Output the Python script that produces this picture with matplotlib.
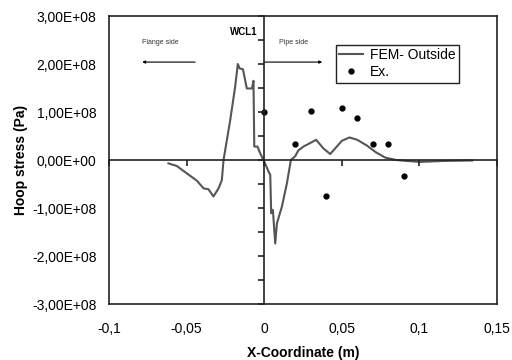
import matplotlib.pyplot as plt
from matplotlib.ticker import FuncFormatter, MultipleLocator

# FEM hoop stress along the outside surface (x in m, stress in 1e8 Pa)
fem_x = [-0.0617, -0.0563, -0.0498, -0.0434, -0.0391, -0.0359, -0.0327,
         -0.0294, -0.0273, -0.0262, -0.0219, -0.0187, -0.0170, -0.0159,
         -0.0137, -0.0112, -0.0079, -0.0069, -0.0064, -0.0043, -0.0026, 0.0,
         0.0028, 0.0039, 0.0045, 0.0056, 0.0071, 0.0082, 0.0114, 0.0146,
         0.0172, 0.0200, 0.0220, 0.0253, 0.0300, 0.0335, 0.0382, 0.0425,
         0.0468, 0.0500, 0.0550, 0.0600, 0.0662, 0.0720, 0.0780, 0.0850,
         0.0919, 0.1005, 0.115, 0.134]
fem_y = [-0.07, -0.125, -0.28, -0.43, -0.59, -0.61, -0.76,
         -0.59, -0.42, 0.0, 0.83, 1.53, 2.00, 1.91,
         1.89, 1.49, 1.49, 1.65, 0.28, 0.28, 0.14, -0.03,
         -0.24, -0.31, -1.11, -1.04, -1.74, -1.32, -0.97, -0.49,
         0.0, 0.08, 0.20, 0.28, 0.36, 0.42, 0.24, 0.125,
         0.28, 0.40, 0.47, 0.42, 0.30, 0.16, 0.05, 0.0,
         -0.02, -0.04, -0.02, -0.01]

# measured values
ex_x = [0.0, 0.02, 0.03, 0.04, 0.05, 0.06, 0.07, 0.08, 0.09]
ex_y = [1.0, 0.33, 1.03, -0.74, 1.09, 0.88, 0.33, 0.34, -0.33]

scale = 1e8
fem_pa = [v * scale for v in fem_y]
ex_pa = [v * scale for v in ex_y]

plt.rcParams['font.family'] = ['Liberation Sans', 'DejaVu Sans']

fig = plt.figure(figsize=(5.12, 3.6), dpi=100)
rect = [109 / 512, 1 - 304 / 360, 388 / 512, 288 / 360]
ax = fig.add_axes(rect)

ax.plot(fem_x, fem_pa, color='#555555', lw=1.5, label='FEM- Outside')
ax.plot(ex_x, ex_pa, 'o', color='black', ms=3.5, label='Ex.')

xlim = (-0.1, 0.15)
ylim = (-3e8, 3e8)
ax.set_xlim(xlim)
ax.set_ylim(ylim)
ax.xaxis.set_major_locator(MultipleLocator(0.05))
ax.yaxis.set_major_locator(MultipleLocator(1e8))
ax.xaxis.set_major_formatter(FuncFormatter(
    lambda v, p: '0' if abs(v) < 1e-9 else ('%g' % round(v, 3)).replace('.', ',')))
ax.yaxis.set_major_formatter(FuncFormatter(
    lambda v, p: ('%.2E' % v).replace('.', ',')))
ax.tick_params(length=0, labelsize=10)
ax.tick_params(axis='x', pad=13)
ax.tick_params(axis='y', pad=9)
for s in ax.spines.values():
    s.set_linewidth(1.2)
    s.set_color('#222222')

ax.set_xlabel('X-Coordinate (m)', fontsize=10, fontweight='bold', labelpad=7)
ax.set_ylabel('Hoop stress (Pa)', fontsize=10, fontweight='bold', labelpad=3)

# axis lines through the origin with their own ticks
ax0 = fig.add_axes(rect)
ax0.patch.set_visible(False)
ax0.set_xlim(xlim)
ax0.set_ylim(ylim)
for side in ['top', 'right']:
    ax0.spines[side].set_visible(False)
for side in ['left', 'bottom']:
    ax0.spines[side].set_position(('data', 0))
    ax0.spines[side].set_linewidth(1.2)
    ax0.spines[side].set_color('#222222')
ax0.xaxis.set_major_locator(MultipleLocator(0.05))
ax0.yaxis.set_major_locator(MultipleLocator(0.5e8))
ax0.tick_params(direction='out', length=4, width=1.2, color='#222222',
                labelbottom=False, labelleft=False)

ax.annotate('', xy=(-0.0786, 2.04e8), xytext=(-0.0445, 2.04e8),
            arrowprops=dict(arrowstyle='-|>', color='black', lw=0.8,
                            mutation_scale=4, shrinkA=0, shrinkB=0))
ax.annotate('', xy=(0.0374, 2.04e8), xytext=(0.0, 2.04e8),
            arrowprops=dict(arrowstyle='-|>', color='black', lw=0.8,
                            mutation_scale=4, shrinkA=0, shrinkB=0))
ax.text(-0.0785, 2.45e8, 'Flange side', fontsize=5, color='#333333', va='center')
ax.text(0.0095, 2.45e8, 'Pipe side', fontsize=5, color='#333333', va='center')
ax.text(-0.0045, 2.66e8, 'WCL1', fontsize=7, fontweight='bold', ha='right', va='center')

leg = ax0.legend(*ax.get_legend_handles_labels(), loc='upper left',
                 bbox_to_anchor=(0.585, 0.9), fontsize=10,
                 frameon=True, fancybox=False, edgecolor='#222222',
                 borderpad=0.25, handlelength=1.7, handletextpad=0.5,
                 labelspacing=0.2, borderaxespad=0, framealpha=1)
leg.get_frame().set_linewidth(1.0)

fig.savefig('out.png', dpi=100)
